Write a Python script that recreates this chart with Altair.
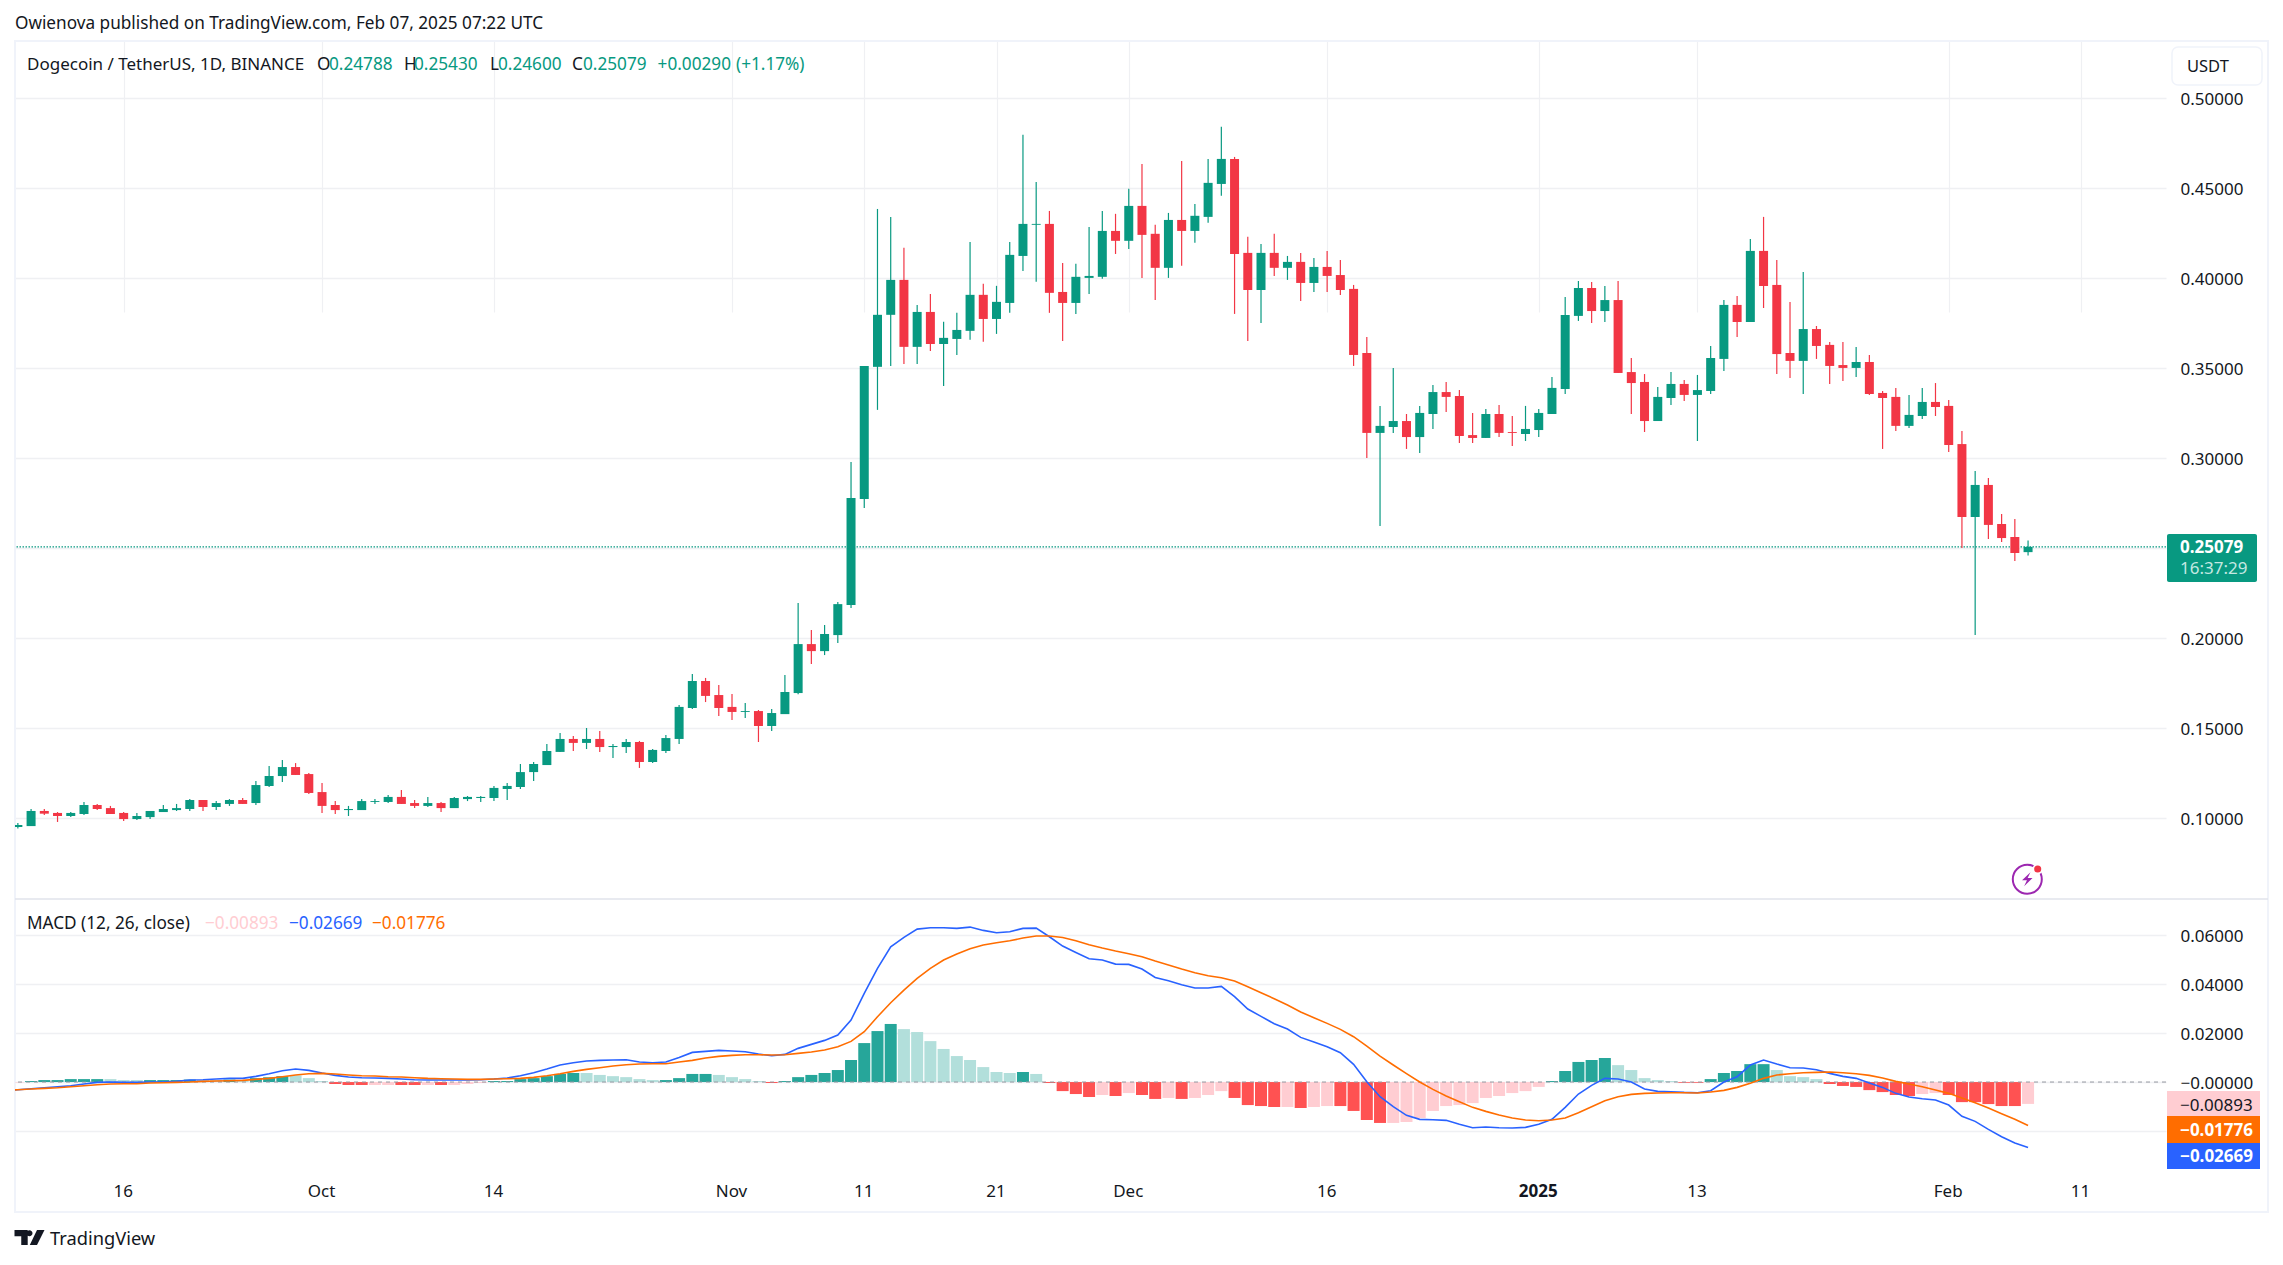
import altair as alt
import pandas as pd

dates = [d.strftime("%Y-%m-%d") for d in pd.date_range("2024-09-08", "2025-02-07", freq="D")]

opens = [.0952,.0957,.1041,.1030,.1013,.1024,.1074,.1057,.1030,.0996,.1007,.1035,.1046,.1052,.1102,.1063,.1080,.1102,.1085,.1180,.1235,.1285,.1246,.1146,.1074,.1046,.1046,.1091,.1091,.1119,.1085,.1069,.1085,.1057,.1107,.1113,.1113,.1163,.1174,.1257,.1296,.1369,.1441,.1419,.1441,.1396,.1396,.1424,.1313,.1374,.1441,.1613,.1763,.1685,.1619,.1591,.1596,.1513,.1579,.1696,.1968,.1929,.2018,.2185,
 .2774,.3508,.3797,.3991,.3619,.3813,.3635,.3663,.3708,.3908,.3774,.3863,.4124,.4297,.4302,.3924,.3863,.4002,.4008,.4263,
 .4208,.4402,.4247,.4058,.4324,.4263,.4341,.4524,.4663,.4141,.3935,.4141,.4058,.4091,.3974,.4063,.4018,.3941,.3585,.3141,.3174,.3207,.3118,.3246,.3368,.3346,.3129,.3113,.3246,.3146,.3135,
 .3157,.3246,.3385,.3791,.3946,.3818,.3879,.3479,.3424,.3207,.3335,.3413,.3352,.3374,.3552,.3852,.3757,.4152,.3963,.3585,.3541,.3718,.3630,.3518,.3502,.3535,.3363,.3341,.3180,.3235,.3313,
 .3291,.3079,.2674,.2852,.2635,.2563,.24788]
highs = [.0974,.1052,.1052,.1035,.1035,.1091,.1080,.1069,.1035,.1030,.1041,.1074,.1080,.1107,.1102,.1096,.1107,.1113,.1207,.1291,.1324,.1307,.1252,.1196,.1096,.1069,.1107,.1107,.1130,.1157,.1102,.1119,.1091,.1119,.1124,.1124,.1180,.1196,.1302,.1313,.1413,.1474,.1457,.1502,.1485,.1413,.1441,.1430,.1385,.1463,.1630,.1802,.1780,.1741,.1691,.1641,.1602,.1607,.1796,.2196,.2046,.2074,.2202,.2979,
 .3513,.4385,.4341,.4169,.3852,.3913,.3758,.3808,.4202,.3969,.3958,.4202,.4797,.4535,.4374,.4085,.4080,.4285,.4374,.4358,
 .4497,.4635,.4297,.4363,.4652,.4413,.4663,.4841,.4674,.4230,.4191,.4247,.4124,.4141,.4113,.4152,.4102,.3963,.3674,.3291,.3502,.3246,.3291,.3407,.3424,.3380,.3252,.3274,.3296,.3235,.3291,
 .3274,.3452,.3896,.3985,.3979,.3957,.3985,.3557,.3468,.3396,.3479,.3435,.3463,.3624,.3880,.3902,.4218,.4341,.4102,.3868,.4035,.3735,.3646,.3646,.3618,.3574,.3374,.3391,.3352,.3391,.3418,
 .3324,.3152,.2929,.2891,.2691,.2663,.25430]
lows = [.0943,.0957,.1019,.0980,.1007,.1019,.1046,.1024,.0985,.0991,.0996,.1035,.1041,.1041,.1041,.1046,.1069,.1080,.1074,.1174,.1202,.1241,.1135,.1030,.1024,.1013,.1046,.1080,.1085,.1080,.1057,.1063,.1035,.1057,.1096,.1091,.1096,.1102,.1163,.1207,.1296,.1369,.1374,.1385,.1369,.1335,.1363,.1280,.1307,.1363,.1413,.1607,.1646,.1569,.1546,.1557,.1424,.1485,.1579,.1690,.1857,.1907,.1974,.2168,
 .2724,.3269,.3513,.3524,.3524,.3596,.3402,.3574,.3658,.3647,.3691,.3808,.4041,.3980,.3808,.3652,.3802,.3913,.3997,.4135,
 .4163,.4002,.3880,.4002,.4069,.4197,.4308,.4458,.3802,.3652,.3752,.4013,.3991,.3874,.3924,.3924,.3907,.3513,.3002,.2624,.3141,.3052,.3029,.3163,.3257,.3085,.3085,.3113,.3118,.3068,.3096,
 .3118,.3246,.3357,.3763,.3752,.3757,.3474,.3246,.3146,.3207,.3296,.3318,.3096,.3357,.3485,.3674,.3757,.3835,.3468,.3446,.3357,.3552,.3413,.3429,.3452,.3352,.3052,.3152,.3168,.3218,.3235,
 .3035,.2502,.2018,.2552,.2535,.2430,.24600]
closes = [.0963,.1041,.1026,.1013,.1030,.1074,.1052,.1024,.0996,.1013,.1041,.1052,.1057,.1102,.1063,.1085,.1102,.1080,.1185,.1235,.1285,.1241,.1141,.1069,.1046,.1052,.1096,.1096,.1119,.1080,.1069,.1085,.1057,.1113,.1119,.1119,.1169,.1180,.1257,.1302,.1374,.1441,.1419,.1441,.1396,.1402,.1424,.1313,.1380,.1446,.1619,.1763,.1680,.1613,.1591,.1596,.1513,.1585,.1702,.1968,.1929,.2024,.2190,.2779,
 .3513,.3797,.3991,.3619,.3813,.3635,.3669,.3713,.3908,.3774,.3869,.4130,.4302,.4302,.3919,.3863,.4008,.4013,.4263,.4208,
 .4402,.4241,.4058,.4324,.4263,.4347,.4530,.4663,.4135,.3935,.4141,.4058,.4091,.3974,.4063,.4013,.3935,.3574,.3141,.3180,.3207,.3118,.3252,.3368,.3341,.3124,.3113,.3246,.3141,.3141,.3163,
 .3252,.3391,.3796,.3946,.3818,.3879,.3474,.3418,.3207,.3341,.3413,.3352,.3379,.3557,.3852,.3757,.4152,.3957,.3579,.3541,.3718,.3624,.3513,.3502,.3535,.3357,.3335,.3180,.3241,.3313,.3285,
 .3074,.2674,.2852,.2630,.2557,.2474,.25079]

# the two indicator lines begin one day earlier, off the left edge
line_dates = ["2024-09-07"] + dates
macd_line = [-.0035,-.00313,-.00272,-.00231,-.0019,-.0015,-.00082,-.00014,0,-.00014,-.00014,0,0,.00027,.00082,.00095,.00122,.0015,.0015,.00231,.0034,.00462,.0053,.00476,
 .00367,.00272,.00204,.00177,.00163,.0015,.00122,.00095,.00082,.00082,.00082,.00082,.00095,.00122,.00163,.00258,.00381,.0053,.00694,.00789,.00857,.00884,.00898,.00911,.00816,.00789,.00816,.01006,.0121,.01251,.01292,
 .01265,.01238,.01142,.01074,.01129,.01374,.01537,.017,.01918,.0253,.03618,.04638,.05522,.05902,.06242,.06297,.06297,.0627,.06324,.06188,.06093,.06134,.0627,.06283,.0593,.05549,.0529,.05032,.04978,.04814,
 .04801,.0461,.0427,.04134,.03971,.03835,.03835,.03903,.03482,.02978,.02679,.0238,.02162,.01822,.01632,.01442,.01197,.00721,.00014,-.00598,-.01006,-.0136,-.01523,-.01537,-.01564,-.01727,-.01863,-.01836,-.01863,-.01877,-.0185,
 -.01727,-.01523,-.01034,-.0049,-.00136,.0015,.00122,0,-.00286,-.00381,-.00394,-.00422,-.00435,-.00354,0,.00218,.00694,.00898,.00734,.00585,.00571,.00503,.00354,.00231,.0015,-.00041,-.00218,-.00462,-.00612,-.0068,-.00734,
 -.00938,-.01401,-.01605,-.01931,-.0223,-.02489,-.02669]
signal_line = [-.0034,-.00313,-.00286,-.00258,-.00231,-.0019,-.0015,-.00109,-.00082,-.00068,-.00068,-.00041,-.00027,-.00014,0,.00027,.00041,.00054,.00068,.00109,.0015,.00218,.00286,.0034,
 .00354,.00326,.00286,.00258,.00245,.00218,.00204,.00177,.0015,.00136,.00122,.00109,.00109,.00122,.00136,.0015,.0019,.00258,.0034,.00435,.00517,.00585,.00653,.00707,.00734,.00748,.00748,.00816,.00884,.00979,.01047,
 .01088,.01115,.01115,.01102,.01115,.0117,.01224,.01306,.01442,.01659,.02054,.02666,.03237,.03754,.0423,.04638,.04978,.05222,.0544,.0559,.05685,.05766,.05875,.05957,.05957,.05902,.05766,.05603,.05467,.05345,
 .05236,.05114,.04937,.04774,.0461,.04461,.04338,.04257,.04121,.0389,.03645,.034,.03142,.02856,.02625,.02394,.02149,.0185,.01469,.01061,.00694,.0034,0,-.00299,-.00571,-.00802,-.01034,-.01197,-.01346,-.01469,-.0155,
 -.01578,-.0155,-.01469,-.01251,-.01006,-.00762,-.00598,-.00503,-.00462,-.00449,-.00435,-.00435,-.00449,-.00408,-.0034,-.00218,-.00054,.0015,.00286,.0034,.00381,.00394,.00408,.00381,.0034,.00272,.00163,.00027,-.00082,-.0019,-.00326,
 -.00462,-.00653,-.00843,-.01061,-.01292,-.01523,-.01776]
hist_values = [-.0002,.0004,.0008,.0008,.0012,.0012,.0012,.0012,.0008,.0008,.0008,.0008,.0008,.0010,.0008,.0008,.0010,.0005,.0016,.0020,.0024,.0027,.0016,
 .0004,-.0008,-.0012,-.0012,-.0012,-.0012,-.0012,-.0012,-.0012,-.0012,-.0012,-.0008,-.0004,.0004,.0004,.0012,.0016,.0024,.0033,.0037,.0037,.0029,.0024,.0020,.0012,.0008,.0008,.0016,.0033,.0033,.0029,
 .0020,.0012,.0004,-.0004,.0004,.0020,.0029,.0037,.0049,.0090,.0159,.0208,.0237,.0216,.0204,.0167,.0135,.0106,.0090,.0061,.0041,.0037,.0041,.0033,-.0004,-.0037,-.0049,-.0061,-.0053,-.0057,
 -.0045,-.0053,-.0069,-.0065,-.0069,-.0065,-.0053,-.0037,-.0065,-.0094,-.0098,-.0102,-.0102,-.0106,-.0102,-.0098,-.0098,-.0118,-.0155,-.0167,-.0167,-.0163,-.0147,-.0118,-.0098,-.0094,-.0086,-.0065,-.0057,-.0045,-.0037,
 -.0020,.0004,.0045,.0082,.0090,.0098,.0069,.0049,.0016,.0008,.0004,-.0003,-.0003,.0012,.0037,.0045,.0073,.0073,.0049,.0024,.0020,.0012,-.0008,-.0016,-.0020,-.0033,-.0041,-.0053,-.0057,-.0049,-.0045,
 -.0053,-.0082,-.0082,-.0090,-.0098,-.0098,-.00893]
hist_shades = list("LDDDDDDLLLDDDDLLDLDDDLL" "LDDDLLDDLDLLLDDDDDDDLLLLLLDDDDL" "LLLDDDDDDDDDDLLLLLLLLLDLDDDDLD"
                   "LDDLDLLLDDDDLDLLDDDDLLLLLLLLLLL" "LDDDDDLLLLLDDDDDDDLLLLDDDDDDDLL" "DDDDDDL")

price_ticks = [.10, .15, .20, .25, .30, .35, .40, .45, .50]
macd_ticks = [.06, .04, .02, 0, -.02]
last_price = 0.25079

GREEN = "#089981"; RED = "#F23645"; INK = "#131722"; GRID = "#eff0f3"; FONT = "Noto Sans"

# the plot area runs from (15, 41) to (2166, 1170) on the page
PW, PH = 2151, 1129
PRICE_H = 858


def px(x):
    return x - 15


def py(y):
    return y - 41


df = pd.DataFrame({"date": dates, "o": opens, "h": highs, "l": lows, "c": closes,
                   "hist": hist_values, "shade": hist_shades})
df["top"] = df[["o", "c"]].max(axis=1)
df["bot"] = df[["o", "c"]].min(axis=1)
df["dir"] = ["up" if c >= o else "down" for o, c in zip(opens, closes)]
df["hkey"] = [("pos" if v >= 0 else "neg") + s for v, s in zip(hist_values, hist_shades)]
df["zero"] = 0
lines_df = pd.DataFrame({"date": line_dates, "macd": macd_line, "signal": signal_line})

tick_days = [(2024, 9, 16), (2024, 10, 1), (2024, 10, 14), (2024, 11, 1), (2024, 11, 11), (2024, 11, 21), (2024, 12, 1),
             (2024, 12, 16), (2025, 1, 1), (2025, 1, 13), (2025, 2, 1), (2025, 2, 11)]
xscale = alt.Scale(type="utc", nice=False, padding=0,
                   domain=[alt.DateTime(year=2024, month=9, date=7, hours=18, minutes=49, utc=True),
                           alt.DateTime(year=2025, month=2, date=17, hours=10, minutes=19, utc=True)])
xaxis = alt.Axis(
    values=[alt.DateTime(year=a, month=b, date=c, utc=True) for a, b, c in tick_days],
    labelExpr="utcdate(datum.value)==1 ? (utcmonth(datum.value)==0 ? utcFormat(datum.value,'%Y') : utcFormat(datum.value,'%b')) : utcFormat(datum.value,'%-d')",
    labelFontWeight={"condition": {"test": "utcdate(datum.value)==1 && utcmonth(datum.value)==0", "value": "bold"}, "value": "normal"},
    title=None, grid=True, gridColor=GRID, gridWidth=1.2, domain=False, ticks=False, labelPadding=13, labelOffset=-1,
    labelFont=FONT, labelFontSize=17, labelColor=INK, labelAngle=0, labelFlush=False, labelOverlap=False)
X = alt.X("date:T", scale=xscale, axis=xaxis)

yprice_scale = alt.Scale(domain=[.0552, .5318], range=[PRICE_H, 0], nice=False, zero=False)
ymacd_scale = alt.Scale(domain=[-.0359, .0747], range=[PH, PRICE_H], nice=False, zero=False)
yprice_axis = alt.Axis(values=price_ticks, orient="right", format=".5f", title=None, grid=True, gridColor=GRID, gridWidth=1.4,
                       domain=False, ticks=False, labelPadding=14, labelOffset=1, labelAlign="left", labelFont=FONT, labelFontSize=17,
                       labelColor=INK, labelOverlap=False, labelFlush=False)
ymacd_axis = alt.Axis(values=macd_ticks, orient="right", title=None, grid=True, gridColor=GRID, gridWidth=1.4,
                      labelExpr="datum.value==0 ? '\u22120.00000' : (datum.value<0 ? '' : format(datum.value,'.5f'))",
                      domain=False, ticks=False, labelPadding=14, labelOffset=1, labelAlign="left", labelFont=FONT, labelFontSize=17,
                      labelColor=INK, labelOverlap=False, labelFlush=False)

candle_color = alt.Color("dir:N", scale=alt.Scale(domain=["up", "down"], range=[GREEN, RED]), legend=None)
hist_color = alt.Color("hkey:N", scale=alt.Scale(domain=["posD", "posL", "negD", "negL"],
                                                 range=["#26A69A", "#B2DFDB", "#FF5252", "#FFCDD2"]), legend=None)

base = alt.Chart(df)


def yp(field, axis=None):
    return alt.Y(f"{field}:Q", scale=yprice_scale, axis=axis)


def ym(field, axis=None):
    return alt.Y(f"{field}:Q", scale=ymacd_scale, axis=axis)


def label(text, x, y, color=INK, size=17.2, weight="normal", align="left", font=FONT):
    return alt.Chart(pd.DataFrame({"t": [text]})).mark_text(
        text=text, align=align, baseline="middle", font=font, fontSize=size, fontWeight=weight, color=color
    ).encode(x=alt.value(px(x)), y=alt.value(py(y)))


def box(x0, y0, x1, y1, **kw):
    return alt.Chart(pd.DataFrame({"a": [1]})).mark_rect(**kw).encode(
        x=alt.value(px(x0)), x2=alt.value(px(x1)), y=alt.value(py(y0)), y2=alt.value(py(y1)))


def glyph(path, x, y, size, color):
    return alt.Chart(pd.DataFrame({"a": [1]})).mark_point(
        shape=path, size=size, filled=True, fill=color, stroke=None, opacity=1
    ).encode(x=alt.value(px(x)), y=alt.value(py(y)))


frame = box(15, 41, 2268, 1212, fillOpacity=0, stroke="#f0f3fa", strokeWidth=2)
separator = alt.Chart(pd.DataFrame({"a": [1]})).mark_rule(color="#e0e3eb", strokeWidth=1.5).encode(
    x=alt.value(px(15)), x2=alt.value(px(2268)), y=alt.value(py(899)))

# data layers
wicks = base.mark_rule(strokeWidth=1.2, clip=True).encode(x=X, y=yp("l", yprice_axis), y2="h:Q", color=candle_color)
bodies = base.mark_bar(size=9, clip=True).encode(x=X, y=yp("bot"), y2="top:Q", color=candle_color)
last_rule = alt.Chart(pd.DataFrame({"p": [last_price]})).mark_rule(color=GREEN, strokeDash=[1.5, 1.5], strokeWidth=1.2).encode(y=yp("p"))

hist = base.mark_bar(size=12, clip=True).encode(x=X, y=ym("zero", ymacd_axis), y2="hist:Q", color=hist_color)
zero_rule = alt.Chart(pd.DataFrame({"z": [0]})).mark_rule(color="#9598a1", strokeDash=[4, 4], strokeWidth=1).encode(y=ym("z"))
macd_l = alt.Chart(lines_df).mark_line(color="#2962FF", strokeWidth=1.6, clip=True).encode(x=X, y=ym("macd"))
signal_l = alt.Chart(lines_df).mark_line(color="#FF6D00", strokeWidth=1.6, clip=True).encode(x=X, y=ym("signal"))

# header and legends
texts = [
    label("Owienova published on TradingView.com, Feb 07, 2025 07:22 UTC", 15, 23.5),
    label("Dogecoin / TetherUS, 1D, BINANCE", 27, 64.5, size=17),
    label("O", 317, 64.5), label("0.24788", 329, 64.5, GREEN),
    label("H", 404, 64.5), label("0.25430", 414, 64.5, GREEN),
    label("L", 490, 64.5), label("0.24600", 498, 64.5, GREEN),
    label("C", 572, 64.5), label("0.25079", 583, 64.5, GREEN),
    label("+0.00290", 657.6, 64.5, GREEN), label("(+1.17%)", 736, 64.5, GREEN),
    label("MACD (12, 26, close)", 27, 923.7),
    label("\u22120.00893", 205, 923.7, "#FFCDD2"),
    label("\u22120.02669", 289, 923.7, "#2962FF"),
    label("\u22120.01776", 372, 923.7, "#FF6D00"),
    label("TradingView", 50, 1240, size=18.3),
]

# right-hand tags
tags = [
    box(2172, 47, 2262, 85, fill="white", stroke="#f0f3fa", strokeWidth=1.5, cornerRadius=6),
    label("USDT", 2187, 66.5, size=16.5),
    box(2167, 534, 2257, 582, fill=GREEN, cornerRadius=2),
    label("0.25079", 2180, 548.3, "#ffffff", size=17, weight="bold"),
    label("16:37:29", 2180, 569.3, "#c4e8e1", size=17),
    box(2167, 1091, 2260, 1116, fill="#FFCDD2"),
    label("\u22120.00893", 2180, 1106, INK, size=17),
    box(2167, 1116, 2260, 1143, fill="#FF6D00"),
    label("\u22120.01776", 2180, 1130.7, "#ffffff", size=17, weight="bold"),
    box(2167, 1143, 2260, 1169, fill="#2962FF"),
    label("\u22120.02669", 2180, 1157, "#ffffff", size=17, weight="bold"),
]

# TradingView mark and lightning badge
logo = glyph("M-1,-.5 H-.12 V.5 H-.55 V-.08 H-1 Z M.2,-.28 A.2,.2 0 1 1 -.2,-.28 A.2,.2 0 1 1 .2,-.28 Z M.5,-.5 H1 L.5,.5 H.02 Z",
             29.5, 1237.5, 900, INK)
badge_ring = alt.Chart(pd.DataFrame({"a": [1]})).mark_point(shape="circle", size=841, filled=False, stroke="#9C27B0", strokeWidth=2, opacity=1).encode(
    x=alt.value(px(2027.3)), y=alt.value(py(879.3)))
badge_bolt = glyph("M.45,-1 L-.75,.15 H-.05 L-.45,1 L.75,-.2 H.05 Z", 2027.3, 879.3, 196, "#9C27B0")
badge_halo = alt.Chart(pd.DataFrame({"a": [1]})).mark_point(shape="circle", size=110, filled=True, fill="white", stroke=None, opacity=1).encode(
    x=alt.value(px(2037.7)), y=alt.value(py(869)))
badge_dot = alt.Chart(pd.DataFrame({"a": [1]})).mark_point(shape="circle", size=50, filled=True, fill="#F23645", stroke=None, opacity=1).encode(
    x=alt.value(px(2037.7)), y=alt.value(py(869)))

chart = alt.layer(
    frame, hist, zero_rule, macd_l, signal_l, last_rule, wicks, bodies, separator,
    *texts, *tags, logo, badge_ring, badge_bolt, badge_halo, badge_dot
).resolve_scale(y="independent", color="independent").properties(
    width=PW, height=PH,
    autosize=alt.AutoSizeParams(type="none"),
    padding={"left": 7, "top": 33, "right": 108, "bottom": 85},
    background="white",
).configure_view(stroke=None)

chart.save("out.html", embed_options={"renderer": "svg", "actions": False})
